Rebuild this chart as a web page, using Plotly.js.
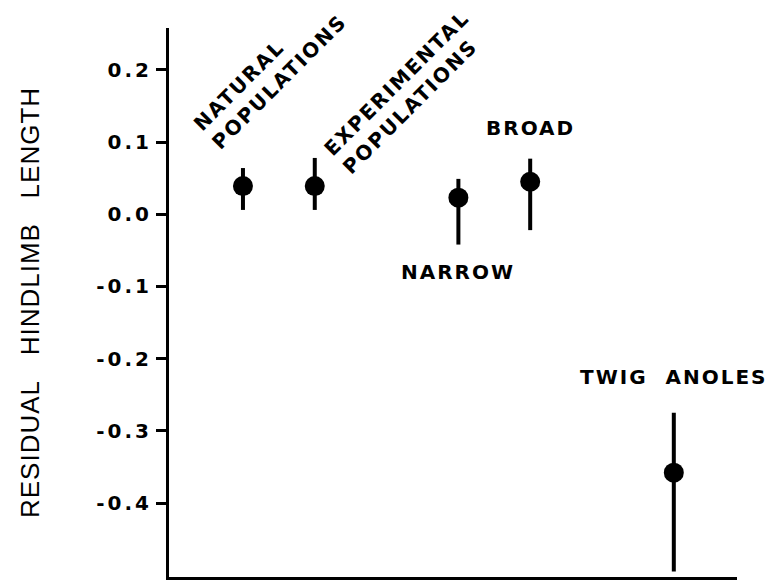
<!DOCTYPE html>
<html><head><meta charset="utf-8">
<script src="https://cdn.plot.ly/plotly-3.0.1.min.js"></script>
<style>
html,body{margin:0;padding:0;background:#fff;}
#chart{width:774px;height:582px;}
.ytick text{letter-spacing:3px;}
.annotation-text{letter-spacing:2px;}
.ytitle{letter-spacing:1px;}
</style></head><body><div id="chart"></div>
<script>
const categories = ["NATURAL POPULATIONS","EXPERIMENTAL POPULATIONS","NARROW","BROAD","TWIG ANOLES"];
const positions = [1, 2, 4, 5, 7];
const residualMeans = [0.039, 0.039, 0.023, 0.045, -0.358];
const errorUpper = [0.025, 0.039, 0.026, 0.032, 0.083];
const errorLower = [0.033, 0.033, 0.065, 0.067, 0.137];
const yTickValues = [0.2, 0.1, 0, -0.1, -0.2, -0.3, -0.4];
const yTickLabels = ["0.2", "0.1", "0.0", "-0.1", "-0.2", "-0.3", "-0.4"];

const trace = {
  type: 'scatter', mode: 'markers',
  x: positions, y: residualMeans, text: categories,
  marker: {size: 20, color: '#000'},
  error_y: {type: 'data', symmetric: false, array: errorUpper, arrayminus: errorLower,
            thickness: 4, width: 0, color: '#000'},
  hoverinfo: 'text+y', cliponaxis: false
};

const fontFam = '"DejaVu Sans", Arial, sans-serif';
const labelFont = {family: fontFam, size: 20, color: '#000', weight: 'bold'};

const layout = {
  width: 774, height: 582,
  margin: {l: 169, r: 37, t: 28, b: 5},
  paper_bgcolor: '#fff', plot_bgcolor: '#fff',
  showlegend: false,
  xaxis: {range: [-0.03, 7.88], showline: true, linewidth: 3, linecolor: '#000',
          showticklabels: false, ticks: '', showgrid: false, zeroline: false, fixedrange: true},
  yaxis: {range: [-0.5025, 0.258], showline: true, linewidth: 3, linecolor: '#000',
          ticks: 'outside', ticklen: 10, tickwidth: 3, tickcolor: '#000',
          tickvals: yTickValues, ticktext: yTickLabels,
          tickfont: {family: fontFam, size: 20, color: '#000', weight: 'bold'},
          showgrid: false, zeroline: false, fixedrange: true,
          title: {text: 'RESIDUAL\u00A0\u00A0\u00A0HINDLIMB\u00A0\u00A0\u00A0LENGTH',
                  font: {family: '"Liberation Sans", Arial, sans-serif', size: 26, color: '#000'},
                  standoff: 50}},
  annotations: [
    {x: 1.37, y: 0.196, xref: 'x', yref: 'y', text: 'NATURAL<br>POPULATIONS', textangle: -45,
     align: 'left', showarrow: false, font: labelFont},
    {x: 3.27, y: 0.17, xref: 'x', yref: 'y', text: 'EXPERIMENTAL<br>POPULATIONS', textangle: -45,
     align: 'left', showarrow: false, font: labelFont},
    {x: 5, y: 0.119, xref: 'x', yref: 'y', text: 'BROAD', showarrow: false, font: labelFont},
    {x: 4, y: -0.080, xref: 'x', yref: 'y', text: 'NARROW', showarrow: false, font: labelFont},
    {x: 7, y: -0.225, xref: 'x', yref: 'y', text: 'TWIG\u00A0\u00A0ANOLES', showarrow: false, font: labelFont}
  ]
};

Plotly.newPlot('chart', [trace], layout, {displayModeBar: false, staticPlot: true});
</script></body></html>
